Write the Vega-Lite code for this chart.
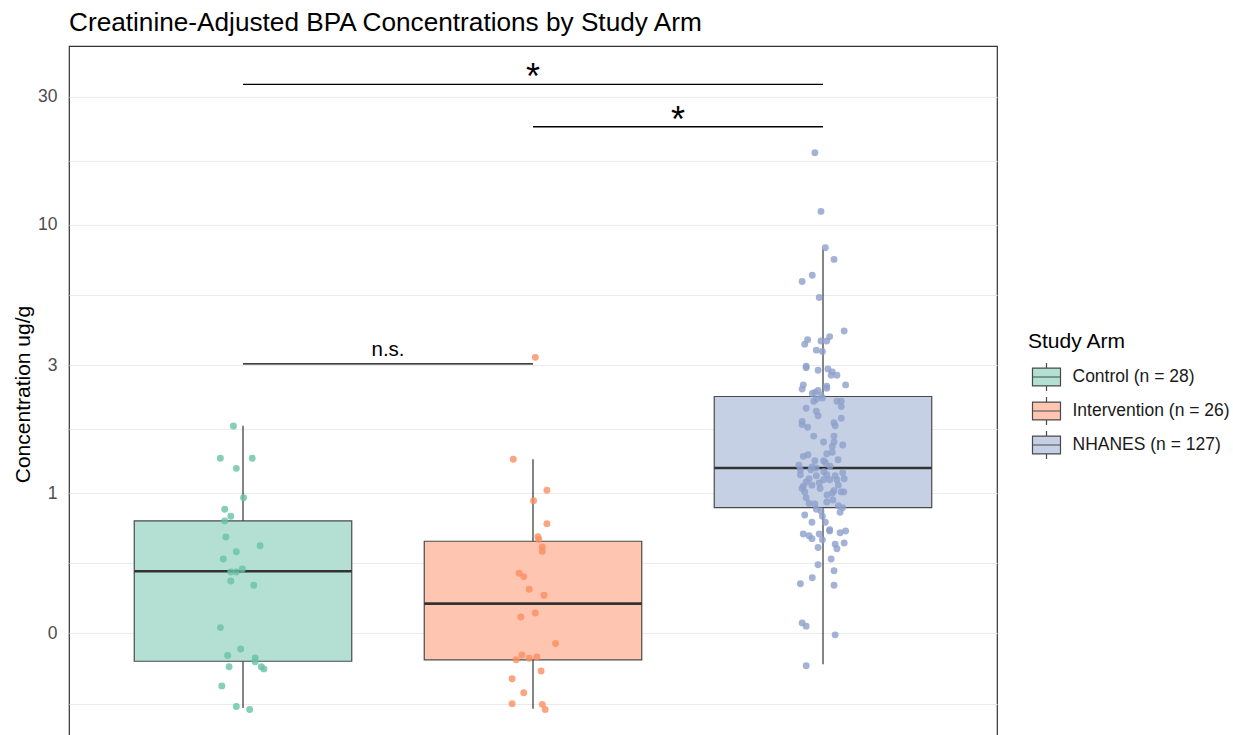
{
  "$schema": "https://vega.github.io/schema/vega-lite/v6.json",
  "width": 928,
  "height": 696,
  "autosize": {"type": "none"},
  "padding": {"left": 69, "top": 46, "right": 236, "bottom": -7},
  "config": {
    "font": "Liberation Sans",
    "view": {"stroke": "#333333", "strokeWidth": 1.2}
  },
  "title": {"text": "Creatinine-Adjusted BPA Concentrations by Study Arm", "anchor": "start", "frame": "group", "fontSize": 26.2, "fontWeight": "normal", "color": "#000000", "offset": 10},
  "datasets": {
    "boxes": [
      {"arm": "Control (n = 28)", "pos": 1, "xlo": 0.625, "xhi": 1.375, "wlo": 0.158, "q1": 0.236, "med": 0.511, "q3": 0.787, "whi": 1.78},
      {"arm": "Intervention (n = 26)", "pos": 2, "xlo": 1.625, "xhi": 2.375, "wlo": 0.157, "q1": 0.239, "med": 0.387, "q3": 0.661, "whi": 1.336},
      {"arm": "NHANES (n = 127)", "pos": 3, "xlo": 2.625, "xhi": 3.375, "wlo": 0.23, "q1": 0.882, "med": 1.24, "q3": 2.29, "whi": 8.1}
    ],
    "sig": [
      {"x1": 1, "x2": 3, "xm": 2, "y": 33.4, "label": "*"},
      {"x1": 2, "x2": 3, "xm": 2.5, "y": 23.2, "label": "*"},
      {"x1": 1, "x2": 2, "xm": 1.5, "y": 3.03, "label": "n.s."}
    ],
    "points": [
      {"arm": "Control (n = 28)", "jx": 0.967, "value": 1.777},
      {"arm": "Control (n = 28)", "jx": 0.922, "value": 1.347},
      {"arm": "Control (n = 28)", "jx": 1.032, "value": 1.347},
      {"arm": "Control (n = 28)", "jx": 0.977, "value": 1.236},
      {"arm": "Control (n = 28)", "jx": 1.002, "value": 0.961},
      {"arm": "Control (n = 28)", "jx": 0.937, "value": 0.870},
      {"arm": "Control (n = 28)", "jx": 0.958, "value": 0.819},
      {"arm": "Control (n = 28)", "jx": 0.937, "value": 0.787},
      {"arm": "Control (n = 28)", "jx": 0.941, "value": 0.686},
      {"arm": "Control (n = 28)", "jx": 1.059, "value": 0.636},
      {"arm": "Control (n = 28)", "jx": 0.977, "value": 0.604},
      {"arm": "Control (n = 28)", "jx": 0.932, "value": 0.568},
      {"arm": "Control (n = 28)", "jx": 0.958, "value": 0.508},
      {"arm": "Control (n = 28)", "jx": 0.977, "value": 0.508},
      {"arm": "Control (n = 28)", "jx": 0.998, "value": 0.521},
      {"arm": "Control (n = 28)", "jx": 0.958, "value": 0.470},
      {"arm": "Control (n = 28)", "jx": 1.037, "value": 0.453},
      {"arm": "Control (n = 28)", "jx": 0.922, "value": 0.315},
      {"arm": "Control (n = 28)", "jx": 0.992, "value": 0.262},
      {"arm": "Control (n = 28)", "jx": 0.947, "value": 0.248},
      {"arm": "Control (n = 28)", "jx": 1.042, "value": 0.243},
      {"arm": "Control (n = 28)", "jx": 1.042, "value": 0.235},
      {"arm": "Control (n = 28)", "jx": 0.952, "value": 0.225},
      {"arm": "Control (n = 28)", "jx": 1.063, "value": 0.225},
      {"arm": "Control (n = 28)", "jx": 1.072, "value": 0.221},
      {"arm": "Control (n = 28)", "jx": 0.927, "value": 0.191},
      {"arm": "Control (n = 28)", "jx": 0.977, "value": 0.160},
      {"arm": "Control (n = 28)", "jx": 1.023, "value": 0.156},
      {"arm": "Intervention (n = 26)", "jx": 2.008, "value": 3.205},
      {"arm": "Intervention (n = 26)", "jx": 1.932, "value": 1.336},
      {"arm": "Intervention (n = 26)", "jx": 2.048, "value": 1.024},
      {"arm": "Intervention (n = 26)", "jx": 2.002, "value": 0.936},
      {"arm": "Intervention (n = 26)", "jx": 2.048, "value": 0.769},
      {"arm": "Intervention (n = 26)", "jx": 2.017, "value": 0.687},
      {"arm": "Intervention (n = 26)", "jx": 2.020, "value": 0.672},
      {"arm": "Intervention (n = 26)", "jx": 2.032, "value": 0.629},
      {"arm": "Intervention (n = 26)", "jx": 2.032, "value": 0.606},
      {"arm": "Intervention (n = 26)", "jx": 1.952, "value": 0.502},
      {"arm": "Intervention (n = 26)", "jx": 1.968, "value": 0.488},
      {"arm": "Intervention (n = 26)", "jx": 1.987, "value": 0.438},
      {"arm": "Intervention (n = 26)", "jx": 2.038, "value": 0.416},
      {"arm": "Intervention (n = 26)", "jx": 2.008, "value": 0.357},
      {"arm": "Intervention (n = 26)", "jx": 1.958, "value": 0.345},
      {"arm": "Intervention (n = 26)", "jx": 2.078, "value": 0.275},
      {"arm": "Intervention (n = 26)", "jx": 1.962, "value": 0.249},
      {"arm": "Intervention (n = 26)", "jx": 1.942, "value": 0.239},
      {"arm": "Intervention (n = 26)", "jx": 1.987, "value": 0.242},
      {"arm": "Intervention (n = 26)", "jx": 2.013, "value": 0.245},
      {"arm": "Intervention (n = 26)", "jx": 2.028, "value": 0.217},
      {"arm": "Intervention (n = 26)", "jx": 1.928, "value": 0.203},
      {"arm": "Intervention (n = 26)", "jx": 1.968, "value": 0.180},
      {"arm": "Intervention (n = 26)", "jx": 1.928, "value": 0.164},
      {"arm": "Intervention (n = 26)", "jx": 2.032, "value": 0.163},
      {"arm": "Intervention (n = 26)", "jx": 2.042, "value": 0.156},
      {"arm": "NHANES (n = 127)", "jx": 2.972, "value": 18.55},
      {"arm": "NHANES (n = 127)", "jx": 2.993, "value": 11.22},
      {"arm": "NHANES (n = 127)", "jx": 3.008, "value": 8.21},
      {"arm": "NHANES (n = 127)", "jx": 3.038, "value": 7.43},
      {"arm": "NHANES (n = 127)", "jx": 2.963, "value": 6.48},
      {"arm": "NHANES (n = 127)", "jx": 2.928, "value": 6.15},
      {"arm": "NHANES (n = 127)", "jx": 2.987, "value": 5.36},
      {"arm": "NHANES (n = 127)", "jx": 3.073, "value": 4.02},
      {"arm": "NHANES (n = 127)", "jx": 2.947, "value": 3.73},
      {"arm": "NHANES (n = 127)", "jx": 2.937, "value": 3.59},
      {"arm": "NHANES (n = 127)", "jx": 2.993, "value": 3.69},
      {"arm": "NHANES (n = 127)", "jx": 3.023, "value": 3.83},
      {"arm": "NHANES (n = 127)", "jx": 3.013, "value": 3.69},
      {"arm": "NHANES (n = 127)", "jx": 2.977, "value": 3.41},
      {"arm": "NHANES (n = 127)", "jx": 2.998, "value": 3.37},
      {"arm": "NHANES (n = 127)", "jx": 2.942, "value": 2.97},
      {"arm": "NHANES (n = 127)", "jx": 2.942, "value": 2.93},
      {"arm": "NHANES (n = 127)", "jx": 2.983, "value": 2.87},
      {"arm": "NHANES (n = 127)", "jx": 3.017, "value": 2.90},
      {"arm": "NHANES (n = 127)", "jx": 3.032, "value": 2.83},
      {"arm": "NHANES (n = 127)", "jx": 3.028, "value": 2.75},
      {"arm": "NHANES (n = 127)", "jx": 3.048, "value": 2.75},
      {"arm": "NHANES (n = 127)", "jx": 3.078, "value": 2.53},
      {"arm": "NHANES (n = 127)", "jx": 2.932, "value": 2.53},
      {"arm": "NHANES (n = 127)", "jx": 2.928, "value": 2.44},
      {"arm": "NHANES (n = 127)", "jx": 3.013, "value": 2.50},
      {"arm": "NHANES (n = 127)", "jx": 3.013, "value": 2.46},
      {"arm": "NHANES (n = 127)", "jx": 2.983, "value": 2.41},
      {"arm": "NHANES (n = 127)", "jx": 2.963, "value": 2.35},
      {"arm": "NHANES (n = 127)", "jx": 2.972, "value": 2.37},
      {"arm": "NHANES (n = 127)", "jx": 2.993, "value": 2.32},
      {"arm": "NHANES (n = 127)", "jx": 2.978, "value": 2.24},
      {"arm": "NHANES (n = 127)", "jx": 2.968, "value": 2.20},
      {"arm": "NHANES (n = 127)", "jx": 2.998, "value": 2.26},
      {"arm": "NHANES (n = 127)", "jx": 3.048, "value": 2.20},
      {"arm": "NHANES (n = 127)", "jx": 3.063, "value": 2.20},
      {"arm": "NHANES (n = 127)", "jx": 2.942, "value": 2.07},
      {"arm": "NHANES (n = 127)", "jx": 3.063, "value": 2.10},
      {"arm": "NHANES (n = 127)", "jx": 2.977, "value": 2.02},
      {"arm": "NHANES (n = 127)", "jx": 2.983, "value": 1.94},
      {"arm": "NHANES (n = 127)", "jx": 3.063, "value": 1.90},
      {"arm": "NHANES (n = 127)", "jx": 2.928, "value": 1.85},
      {"arm": "NHANES (n = 127)", "jx": 3.038, "value": 1.83},
      {"arm": "NHANES (n = 127)", "jx": 2.928, "value": 1.80},
      {"arm": "NHANES (n = 127)", "jx": 2.947, "value": 1.76},
      {"arm": "NHANES (n = 127)", "jx": 3.042, "value": 1.78},
      {"arm": "NHANES (n = 127)", "jx": 2.968, "value": 1.63},
      {"arm": "NHANES (n = 127)", "jx": 3.038, "value": 1.63},
      {"arm": "NHANES (n = 127)", "jx": 3.002, "value": 1.55},
      {"arm": "NHANES (n = 127)", "jx": 3.038, "value": 1.55},
      {"arm": "NHANES (n = 127)", "jx": 3.068, "value": 1.51},
      {"arm": "NHANES (n = 127)", "jx": 3.032, "value": 1.49},
      {"arm": "NHANES (n = 127)", "jx": 3.032, "value": 1.42},
      {"arm": "NHANES (n = 127)", "jx": 3.013, "value": 1.40},
      {"arm": "NHANES (n = 127)", "jx": 2.932, "value": 1.37},
      {"arm": "NHANES (n = 127)", "jx": 2.972, "value": 1.32},
      {"arm": "NHANES (n = 127)", "jx": 3.002, "value": 1.32},
      {"arm": "NHANES (n = 127)", "jx": 3.008, "value": 1.30},
      {"arm": "NHANES (n = 127)", "jx": 2.917, "value": 1.27},
      {"arm": "NHANES (n = 127)", "jx": 2.962, "value": 1.25},
      {"arm": "NHANES (n = 127)", "jx": 2.922, "value": 1.22},
      {"arm": "NHANES (n = 127)", "jx": 2.922, "value": 1.17},
      {"arm": "NHANES (n = 127)", "jx": 2.958, "value": 1.22},
      {"arm": "NHANES (n = 127)", "jx": 2.977, "value": 1.16},
      {"arm": "NHANES (n = 127)", "jx": 3.013, "value": 1.17},
      {"arm": "NHANES (n = 127)", "jx": 3.042, "value": 1.16},
      {"arm": "NHANES (n = 127)", "jx": 3.068, "value": 1.19},
      {"arm": "NHANES (n = 127)", "jx": 3.073, "value": 1.13},
      {"arm": "NHANES (n = 127)", "jx": 2.952, "value": 1.13},
      {"arm": "NHANES (n = 127)", "jx": 2.942, "value": 1.10},
      {"arm": "NHANES (n = 127)", "jx": 2.987, "value": 1.09},
      {"arm": "NHANES (n = 127)", "jx": 3.002, "value": 1.12},
      {"arm": "NHANES (n = 127)", "jx": 3.023, "value": 1.12},
      {"arm": "NHANES (n = 127)", "jx": 3.048, "value": 1.12},
      {"arm": "NHANES (n = 127)", "jx": 3.053, "value": 1.07},
      {"arm": "NHANES (n = 127)", "jx": 2.932, "value": 1.06},
      {"arm": "NHANES (n = 127)", "jx": 2.928, "value": 1.04},
      {"arm": "NHANES (n = 127)", "jx": 2.937, "value": 1.01},
      {"arm": "NHANES (n = 127)", "jx": 3.038, "value": 1.02},
      {"arm": "NHANES (n = 127)", "jx": 3.063, "value": 1.01},
      {"arm": "NHANES (n = 127)", "jx": 3.072, "value": 1.01},
      {"arm": "NHANES (n = 127)", "jx": 3.032, "value": 0.998},
      {"arm": "NHANES (n = 127)", "jx": 2.942, "value": 0.961},
      {"arm": "NHANES (n = 127)", "jx": 2.952, "value": 0.915},
      {"arm": "NHANES (n = 127)", "jx": 2.972, "value": 0.910},
      {"arm": "NHANES (n = 127)", "jx": 3.013, "value": 0.926},
      {"arm": "NHANES (n = 127)", "jx": 3.053, "value": 0.897},
      {"arm": "NHANES (n = 127)", "jx": 3.068, "value": 0.882},
      {"arm": "NHANES (n = 127)", "jx": 2.977, "value": 0.870},
      {"arm": "NHANES (n = 127)", "jx": 2.993, "value": 0.857},
      {"arm": "NHANES (n = 127)", "jx": 3.059, "value": 0.848},
      {"arm": "NHANES (n = 127)", "jx": 2.937, "value": 0.828},
      {"arm": "NHANES (n = 127)", "jx": 2.998, "value": 0.819},
      {"arm": "NHANES (n = 127)", "jx": 3.008, "value": 0.778},
      {"arm": "NHANES (n = 127)", "jx": 2.962, "value": 0.778},
      {"arm": "NHANES (n = 127)", "jx": 3.023, "value": 0.730},
      {"arm": "NHANES (n = 127)", "jx": 3.023, "value": 0.722},
      {"arm": "NHANES (n = 127)", "jx": 3.078, "value": 0.722},
      {"arm": "NHANES (n = 127)", "jx": 3.059, "value": 0.711},
      {"arm": "NHANES (n = 127)", "jx": 2.932, "value": 0.704},
      {"arm": "NHANES (n = 127)", "jx": 2.952, "value": 0.693},
      {"arm": "NHANES (n = 127)", "jx": 2.962, "value": 0.676},
      {"arm": "NHANES (n = 127)", "jx": 2.987, "value": 0.704},
      {"arm": "NHANES (n = 127)", "jx": 2.998, "value": 0.669},
      {"arm": "NHANES (n = 127)", "jx": 3.042, "value": 0.644},
      {"arm": "NHANES (n = 127)", "jx": 3.073, "value": 0.651},
      {"arm": "NHANES (n = 127)", "jx": 3.048, "value": 0.620},
      {"arm": "NHANES (n = 127)", "jx": 2.983, "value": 0.627},
      {"arm": "NHANES (n = 127)", "jx": 3.028, "value": 0.568},
      {"arm": "NHANES (n = 127)", "jx": 2.983, "value": 0.540},
      {"arm": "NHANES (n = 127)", "jx": 3.038, "value": 0.513},
      {"arm": "NHANES (n = 127)", "jx": 2.963, "value": 0.483},
      {"arm": "NHANES (n = 127)", "jx": 2.922, "value": 0.459},
      {"arm": "NHANES (n = 127)", "jx": 3.038, "value": 0.453},
      {"arm": "NHANES (n = 127)", "jx": 2.928, "value": 0.328},
      {"arm": "NHANES (n = 127)", "jx": 2.942, "value": 0.319},
      {"arm": "NHANES (n = 127)", "jx": 3.042, "value": 0.296},
      {"arm": "NHANES (n = 127)", "jx": 2.942, "value": 0.227},
      {"arm": "NHANES (n = 127)", "jx": 2.976, "value": 1.24},
      {"arm": "NHANES (n = 127)", "jx": 3.024, "value": 1.26},
      {"arm": "NHANES (n = 127)", "jx": 2.990, "value": 1.04},
      {"arm": "NHANES (n = 127)", "jx": 3.014, "value": 0.983},
      {"arm": "NHANES (n = 127)", "jx": 2.948, "value": 1.39},
      {"arm": "NHANES (n = 127)", "jx": 3.052, "value": 1.33},
      {"arm": "NHANES (n = 127)", "jx": 2.962, "value": 1.07},
      {"arm": "NHANES (n = 127)", "jx": 3.034, "value": 0.942},
      {"arm": "NHANES (n = 127)", "jx": 3.003, "value": 1.20}
    ]
  },
  "layer": [
    {
      "data": {"name": "boxes"},
      "mark": {"type": "rule", "color": "#333333", "strokeWidth": 1.2},
      "encoding": {
        "x": {"field": "pos", "type": "quantitative", "scale": {"domain": [0.4, 3.6], "nice": false, "zero": false}, "axis": null},
        "y": {"field": "wlo", "type": "quantitative",
          "scale": {"type": "log", "domain": [0.118, 46.4], "nice": false, "zero": false},
          "axis": {
            "title": "Concentration ug/g",
            "values": [0.164, 0.3, 0.548, 1, 1.73, 3, 5.48, 10, 17.3, 30],
            "labelExpr": "datum.value == 0.3 ? '0' : (datum.value == 1 || datum.value == 3 || datum.value == 10 || datum.value == 30 ? format(datum.value, 'd') : '')",
            "labelOverlap": false,
            "ticks": false,
            "tickSize": 0,
            "domain": false,
            "grid": true,
            "gridColor": "#EBEBEB",
            "gridWidth": 1.1,
            "labelFontSize": 17.5,
            "labelColor": "#4D4D4D",
            "labelPadding": 12,
            "titleFontSize": 21,
            "titleFontWeight": "normal",
            "titleColor": "#000000",
            "titlePadding": 4
          }
        },
        "y2": {"field": "whi"}
      }
    },
    {
      "data": {"name": "boxes"},
      "mark": {"type": "bar", "stroke": "#4a4a4a", "strokeWidth": 1.2, "opacity": 1},
      "encoding": {
        "x": {"field": "xlo", "type": "quantitative", "axis": null},
        "x2": {"field": "xhi"},
        "y": {"field": "q1", "type": "quantitative"},
        "y2": {"field": "q3"},
        "fill": {
          "field": "arm", "type": "nominal",
          "scale": {"domain": ["Control (n = 28)", "Intervention (n = 26)", "NHANES (n = 127)"], "range": ["#B3E0D2", "#FEC6B1", "#C6D0E5"]},
          "legend": {
            "title": "Study Arm",
            "orient": "none",
            "legendX": 959,
            "legendY": 285,
            "padding": 0,
            "symbolType": "M-1,-0.64H1V0.64H-1Z M-1,0H1 M0,-0.64V-1 M0,0.64V1",
            "symbolSize": 784,
            "symbolStrokeColor": "#4a4a4a",
            "symbolStrokeWidth": 1.2,
            "symbolOffset": 3.5,
            "labelFontSize": 17.5,
            "labelColor": "#1A1A1A",
            "labelOffset": 11,
            "titleFontSize": 21,
            "titleFontWeight": "normal",
            "titleColor": "#000000",
            "titlePadding": 10,
            "rowPadding": 0
          }
        }
      }
    },
    {
      "data": {"name": "boxes"},
      "mark": {"type": "rule", "color": "#333333", "strokeWidth": 2.6},
      "encoding": {
        "x": {"field": "xlo", "type": "quantitative", "axis": null},
        "x2": {"field": "xhi"},
        "y": {"field": "med", "type": "quantitative"}
      }
    },
    {
      "data": {"name": "points"},
      "mark": {"type": "circle", "size": 48, "opacity": 0.8},
      "encoding": {
        "x": {"field": "jx", "type": "quantitative", "axis": null},
        "y": {"field": "value", "type": "quantitative"},
        "color": {"field": "arm", "type": "nominal", "scale": {"domain": ["Control (n = 28)", "Intervention (n = 26)", "NHANES (n = 127)"], "range": ["#66C2A5", "#FC8D62", "#8DA0CB"]}, "legend": null}
      }
    },
    {
      "data": {"name": "sig"},
      "mark": {"type": "rule", "color": "#000000", "strokeWidth": 1.3},
      "encoding": {
        "x": {"field": "x1", "type": "quantitative", "axis": null},
        "x2": {"field": "x2"},
        "y": {"field": "y", "type": "quantitative"}
      }
    },
    {
      "data": {"name": "sig"},
      "transform": [{"filter": "datum.label == '*'"}],
      "mark": {"type": "text", "fontSize": 36, "color": "#000000", "baseline": "alphabetic", "align": "center", "dy": 5},
      "encoding": {
        "x": {"field": "xm", "type": "quantitative", "axis": null},
        "y": {"field": "y", "type": "quantitative"},
        "text": {"field": "label"}
      }
    },
    {
      "data": {"name": "sig"},
      "transform": [{"filter": "datum.label != '*'"}],
      "mark": {"type": "text", "fontSize": 20.5, "color": "#000000", "baseline": "alphabetic", "align": "center", "dy": -8},
      "encoding": {
        "x": {"field": "xm", "type": "quantitative", "axis": null},
        "y": {"field": "y", "type": "quantitative"},
        "text": {"field": "label"}
      }
    }
  ]
}
